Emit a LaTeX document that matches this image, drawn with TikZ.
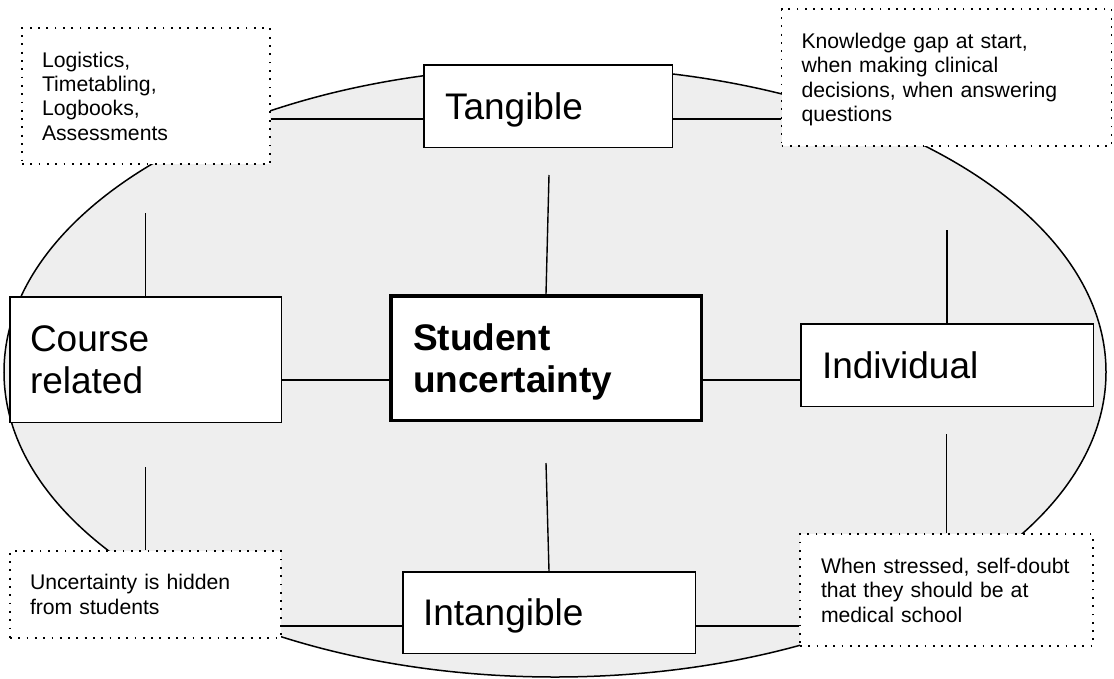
\documentclass[tikz,border=0pt]{standalone}
\usepackage{fontspec}
\setmainfont{Liberation Sans}
\definecolor{shade}{RGB}{238,238,238}
\begin{document}
\begin{tikzpicture}[x=1pt,y=-1pt,
  conn/.style={line width=1.4pt},
  mainbox/.style={draw, fill=white, line width=1.5pt, inner sep=0pt, align=left,
    font=\fontsize{37}{42.3}\selectfont, text height=26.5pt},
  notebox/.style={draw, fill=white, line width=1.8pt, dash pattern=on 1.8pt off 6.5pt,
    inner sep=0pt, align=left, font=\fontsize{21.2}{24.4}\selectfont, text height=15.2pt},
]
\useasboundingbox (0,0) rectangle (1114,678);

% shaded ellipse behind everything
\draw[fill=shade, line width=1.5pt] (555,372) ellipse [x radius=551, y radius=305];

% central concept
\node[mainbox, line width=3.5pt, font=\fontsize{37}{42.3}\selectfont\bfseries,
  minimum width=310.5pt, minimum height=124.5pt, text width=266pt, text depth=42.3pt]
  (cen) at (546,358) {Student\\uncertainty};

% four categories
\node[mainbox, minimum width=248.5pt, minimum height=82.5pt, text width=206pt, text depth=0pt]
  (tan) at (548,106) {Tangible};
\node[mainbox, minimum width=271.5pt, minimum height=125.5pt, text width=231pt, text depth=42.3pt]
  (cou) at (145.5,359.5) {Course\\related};
\node[mainbox, minimum width=292.5pt, minimum height=82.5pt, text width=250pt, text depth=0pt]
  (ind) at (947,365) {Individual};
\node[mainbox, minimum width=292.5pt, minimum height=81.5pt, text width=252pt, text depth=0pt]
  (int) at (549,612.5) {Intangible};

% notes
\node[notebox, minimum width=248pt, minimum height=136pt, text width=208pt, text depth=73.2pt]
  (log) at (146,96) {Logistics,\\Timetabling,\\Logbooks,\\Assessments};
\node[notebox, minimum width=330pt, minimum height=137pt, text width=290pt, text depth=73.2pt]
  (kno) at (946.5,77.5) {Knowledge gap at start,\\when making clinical\\decisions, when answering\\questions};
\node[notebox, minimum width=271pt, minimum height=87pt, text width=231pt, text depth=24.4pt]
  (hid) at (145.5,594.5) {Uncertainty is hidden\\from students};
\node[notebox, minimum width=293pt, minimum height=112pt, text width=251pt, text depth=48.8pt]
  (str) at (946.5,590) {When stressed, self-doubt\\that they should be at\\medical school};

% connector rows and free ends
\coordinate (rowT) at (0,119);
\coordinate (rowM) at (0,380);
\coordinate (rowB) at (0,626);
\coordinate (tcA) at (549,175);
\coordinate (icA) at (546,463);
\coordinate (lt) at (145.5,213);
\coordinate (lb) at (145.5,467);
\coordinate (rt) at (947,230);
\coordinate (rb) at (946.5,434);

\draw[conn] (log.east |- rowT) -- (tan.west |- rowT);
\draw[conn] (tan.east |- rowT) -- (kno.west |- rowT);
\draw[conn] (hid.east |- rowB) -- (int.west |- rowB);
\draw[conn] (int.east |- rowB) -- (str.west |- rowB);
\draw[conn] (cou.east |- rowM) -- (cen.west |- rowM);
\draw[conn] (cen.east |- rowM) -- (ind.west |- rowM);
\draw[conn] (tcA) -- (cen.north);
\draw[conn] (icA) -- (int.north);
\draw[conn] (lt) -- (cou.north);
\draw[conn] (lb) -- (hid.north);
\draw[conn] (rt) -- (ind.north);
\draw[conn] (rb) -- (str.north);
\end{tikzpicture}
\end{document}
